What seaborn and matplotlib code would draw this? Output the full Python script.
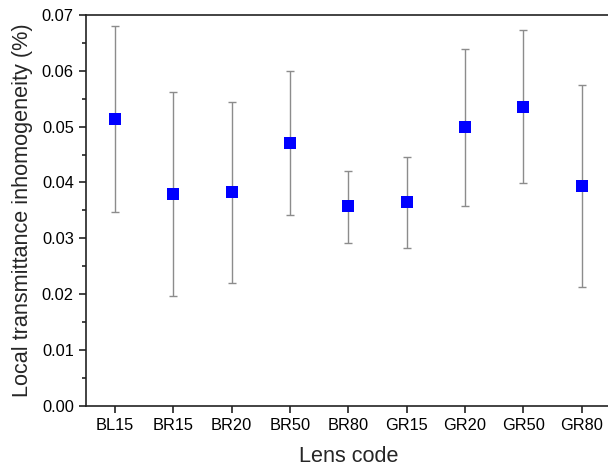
import matplotlib
matplotlib.use("Agg")
import matplotlib.pyplot as plt
import seaborn as sns
import pandas as pd
from matplotlib.ticker import MultipleLocator

lenses = ["BL15", "BR15", "BR20", "BR50", "BR80", "GR15", "GR20", "GR50", "GR80"]
mean_vals = [0.0514, 0.0380, 0.0383, 0.0471, 0.0357, 0.0365, 0.0499, 0.0536, 0.0394]
upper_vals = [0.0680, 0.0562, 0.0545, 0.0600, 0.0421, 0.0446, 0.0640, 0.0673, 0.0574]
lower_vals = [0.0347, 0.0197, 0.0220, 0.0341, 0.0291, 0.0282, 0.0358, 0.0399, 0.0213]

df = pd.DataFrame({"lens": lenses, "mean": mean_vals, "upper": upper_vals, "lower": lower_vals})

sns.set_theme(style="ticks")
plt.rcParams["font.family"] = ["Liberation Sans", "DejaVu Sans"]

fig = plt.figure(figsize=(6.08, 4.70), dpi=100)
ax = fig.add_axes([0.1408, 0.1368, 0.8642, 0.8312])

xs = list(range(len(lenses)))
ax.errorbar(xs, df["mean"],
            yerr=[df["mean"] - df["lower"], df["upper"] - df["mean"]],
            fmt="none", ecolor="#8c8c8c", elinewidth=1.0, capsize=3, capthick=1.0, zorder=2)
sns.scatterplot(data=df, x="lens", y="mean", marker="s", s=75, color="#0000ff",
                edgecolor="#0000ff", linewidth=0, ax=ax, zorder=3)

ax.set_xlim(-0.5, 8.5)
ax.set_ylim(0, 0.07)
ax.yaxis.set_major_locator(MultipleLocator(0.01))
ax.yaxis.set_minor_locator(MultipleLocator(0.005))
ax.yaxis.set_major_formatter(matplotlib.ticker.FormatStrFormatter("%.2f"))
ax.tick_params(axis="both", which="major", direction="out", length=5, width=1.2,
               labelsize=11.8, color="#222222", labelcolor="black")
ax.tick_params(axis="y", which="minor", direction="out", length=3, width=1.2, color="#222222")
for s in ["left", "bottom", "top", "right"]:
    ax.spines[s].set_linewidth(1.2)
    ax.spines[s].set_color("#222222")

ax.set_xlabel("Lens code", fontsize=15.6, labelpad=10)
ax.set_ylabel("Local transmittance inhomogeneity (%)", fontsize=15.6, labelpad=6)

fig.savefig("out.png", dpi=100)
